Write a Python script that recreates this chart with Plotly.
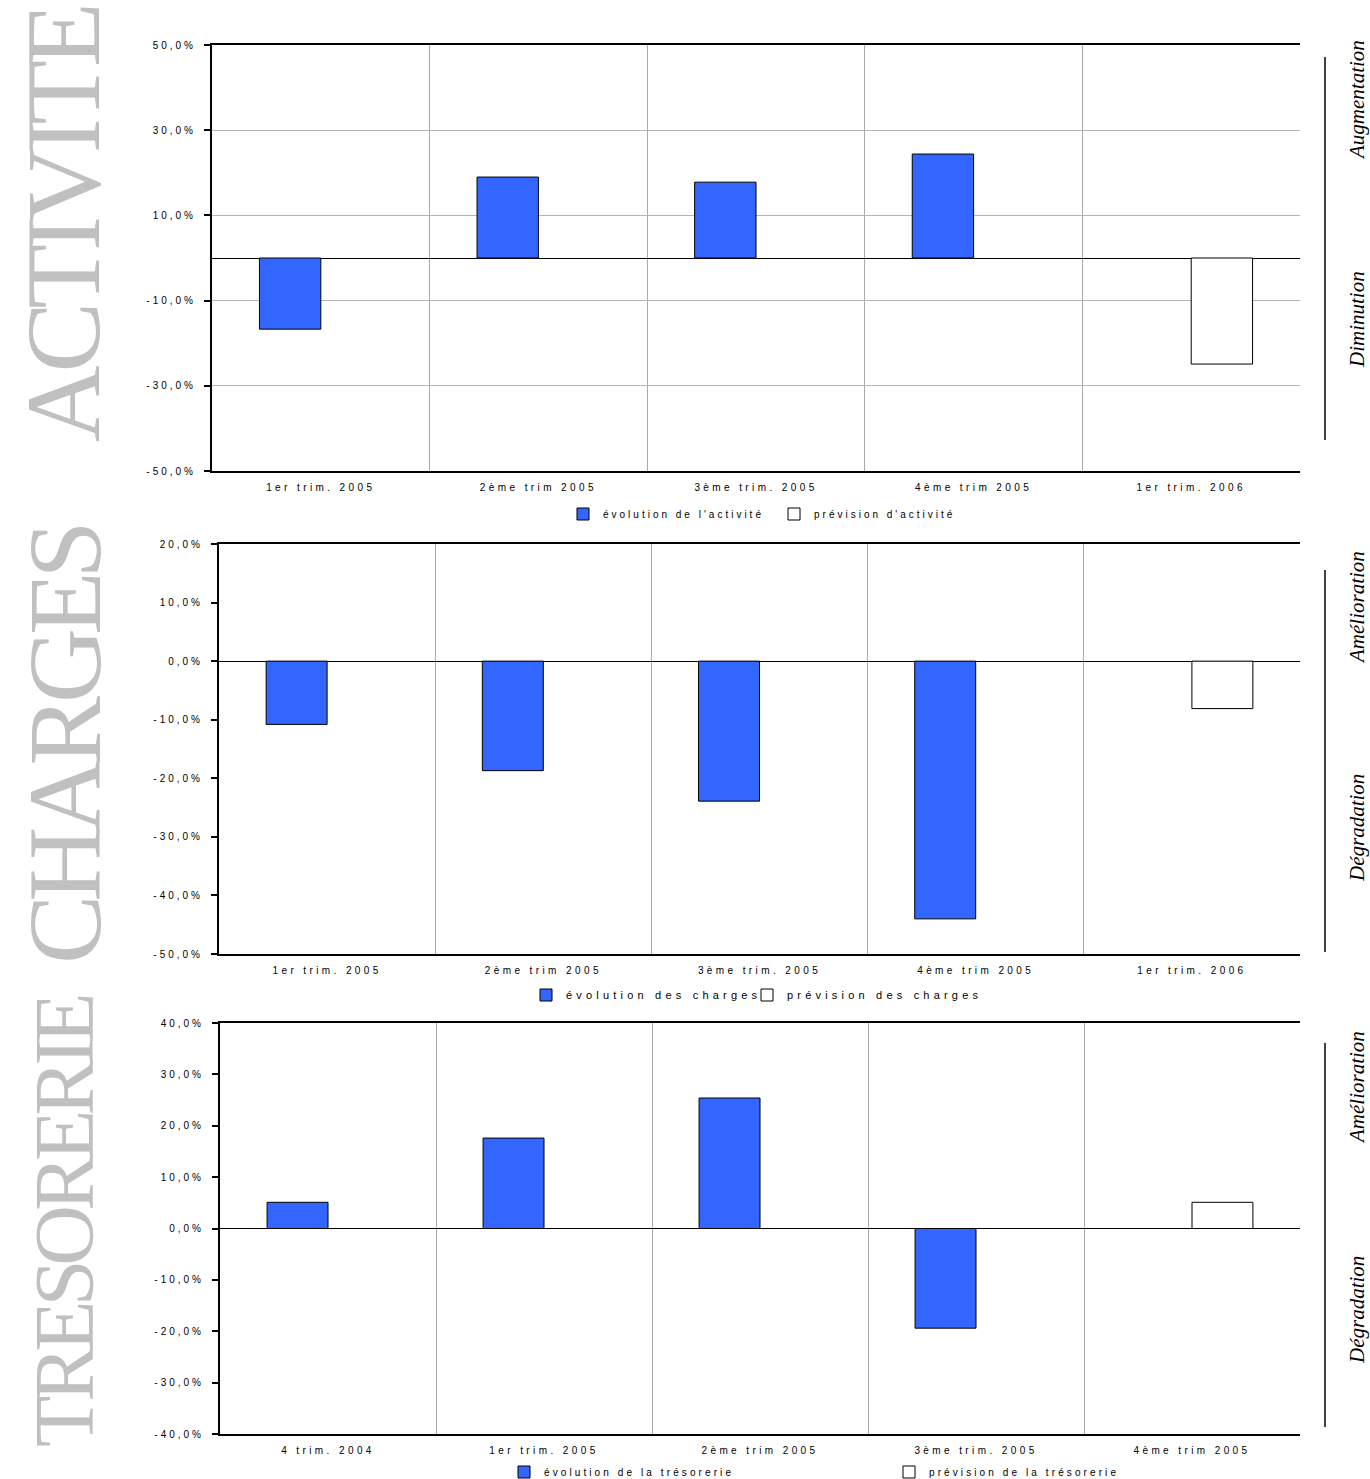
import plotly.graph_objects as go

# ---- data -------------------------------------------------------------
quarters_a = ["1er trim. 2005", "2ème trim 2005", "3ème trim. 2005", "4ème trim 2005", "1er trim. 2006"]
activite_evolution = [-16.7, 19.0, 17.8, 24.4, None]
activite_prevision = [None, None, None, None, -24.9]

quarters_c = ["1er trim. 2005", "2ème trim 2005", "3ème trim. 2005", "4ème trim 2005", "1er trim. 2006"]
charges_evolution = [-10.8, -18.7, -23.9, -44.0, None]
charges_prevision = [None, None, None, None, -8.1]

quarters_t = ["4 trim. 2004", "1er trim. 2005", "2ème trim 2005", "3ème trim. 2005", "4ème trim 2005"]
tresorerie_evolution = [5.1, 17.6, 25.4, -19.4, None]
tresorerie_prevision = [None, None, None, None, 5.1]

ticks_a = [-50, -30, -10, 10, 30, 50]
ticks_c = [-50, -40, -30, -20, -10, 0, 10, 20]
ticks_t = [-40, -30, -20, -10, 0, 10, 20, 30, 40]

BLUE = "#3366FF"
GREY_TEXT = "#c0c0c0"
SANS = "Liberation Sans"
SERIF = "Liberation Serif"

H = 1479.0
W = 1370.0


def spaced(txt, px=3):
    return f'<span style="letter-spacing:{px}px">{txt}</span>'


def pct(v):
    return spaced(f"{v:.1f}".replace(".", ",") + "%", 3)


fig = go.Figure()

# each legend entry gets its own legend box so it can sit exactly where wanted
panels = [
    dict(x=quarters_a, evo=activite_evolution, prev=activite_prevision,
         names=("évolution de l'activité", "prévision d'activité"), ls=3, fs=10,
         legends=("legend", "legend2"), lx=(563, 774), ly=514, xa="x", ya="y"),
    dict(x=quarters_c, evo=charges_evolution, prev=charges_prevision,
         names=("évolution des charges", "prévision des charges"), ls=4.2, fs=11,
         legends=("legend3", "legend4"), lx=(526, 747), ly=995, xa="x2", ya="y2"),
    dict(x=quarters_t, evo=tresorerie_evolution, prev=tresorerie_prevision,
         names=("évolution de la trésorerie", "prévision de la trésorerie"), ls=3.1, fs=10,
         legends=("legend5", "legend6"), lx=(504, 889), ly=1472, xa="x3", ya="y3"),
]

legend_layout = {}
for p in panels:
    fig.add_trace(go.Bar(
        x=p["x"], y=p["evo"], name=spaced(p["names"][0], p["ls"]),
        marker=dict(color=BLUE, line=dict(color="black", width=1)),
        xaxis=p["xa"], yaxis=p["ya"], legend=p["legends"][0],
    ))
    fig.add_trace(go.Bar(
        x=p["x"], y=p["prev"], name=spaced(p["names"][1], p["ls"]),
        marker=dict(color="white", line=dict(color="black", width=1)),
        xaxis=p["xa"], yaxis=p["ya"], legend=p["legends"][1],
    ))
    for lg, lx in zip(p["legends"], p["lx"]):
        legend_layout[lg] = dict(
            orientation="h", x=lx / W, y=1 - p["ly"] / H,
            xanchor="left", yanchor="middle", itemwidth=30,
            font=dict(family=SANS, size=p["fs"], color="black"),
            bgcolor="rgba(0,0,0,0)",
        )


def xdom(l, r):
    return [l / W, r / W]


def ydom(top, bottom):
    return [1 - bottom / H, 1 - top / H]


xcommon = dict(
    type="category", tickson="boundaries", showgrid=True, gridcolor="#a8a8a8",
    gridwidth=1, showline=True, linecolor="black", linewidth=2, mirror=True,
    ticks="", tickfont=dict(family=SANS, size=10, color="black"),
    ticklabelstandoff=6, zeroline=False, fixedrange=True,
)
ycommon = dict(
    showline=True, linecolor="black", linewidth=2, ticks="outside",
    ticklen=6, tickwidth=2, tickcolor="black",
    tickfont=dict(family=SANS, size=10, color="black"),
    zeroline=True, zerolinecolor="black", zerolinewidth=1,
    ticklabelstandoff=6, fixedrange=True,
)

fig.update_layout(
    width=1370, height=1479,
    margin=dict(l=0, r=0, t=0, b=0, autoexpand=False),
    paper_bgcolor="white", plot_bgcolor="white",
    barmode="group", bargap=0.436, bargroupgap=0,
    showlegend=True,
    xaxis=dict(**xcommon, domain=xdom(212, 1300), anchor="y",
               ticktext=[spaced(q, 3.4) for q in quarters_a], tickvals=quarters_a),
    yaxis=dict(**ycommon, domain=ydom(45, 471), anchor="x", range=[-50, 50],
               tickvals=ticks_a, ticktext=[pct(v) for v in ticks_a],
               showgrid=True, gridcolor="#b4b4b4", gridwidth=1),
    xaxis2=dict(**xcommon, domain=xdom(219, 1300), anchor="y2",
                ticktext=[spaced(q, 3.4) for q in quarters_c], tickvals=quarters_c),
    yaxis2=dict(**ycommon, domain=ydom(544, 954), anchor="x2", range=[-50, 20],
                tickvals=ticks_c, ticktext=[pct(v) for v in ticks_c], showgrid=False),
    xaxis3=dict(**xcommon, domain=xdom(220, 1300), anchor="y3",
                ticktext=[spaced(q, 3.4) for q in quarters_t], tickvals=quarters_t),
    yaxis3=dict(**ycommon, domain=ydom(1023, 1434), anchor="x3", range=[-40, 40],
                tickvals=ticks_t, ticktext=[pct(v) for v in ticks_t], showgrid=False),
    **legend_layout,
)

# Large grey section titles running up the left side
titles = [("ACTIVITE", 225, 106, -7), ("CHARGES", 745, 104, -7), ("TRESORERIE", 1222, 84, -6)]
for txt, yc, size, ls in titles:
    fig.add_annotation(
        x=64 / W, y=1 - yc / H, xref="paper", yref="paper",
        text=f'<span style="letter-spacing:{ls}px">{txt}</span>', showarrow=False,
        textangle=-90, xanchor="center", yanchor="middle",
        font=dict(family=SERIF, size=size, color=GREY_TEXT),
    )

# Direction labels and separator rules on the right side
side_labels = [("Augmentation", 100), ("Diminution", 320),
               ("Amélioration", 608), ("Dégradation", 828),
               ("Amélioration", 1088), ("Dégradation", 1310)]
for txt, yc in side_labels:
    fig.add_annotation(
        x=1357 / W, y=1 - yc / H, xref="paper", yref="paper",
        text=f"<i>{txt}</i>", showarrow=False, textangle=-90,
        xanchor="center", yanchor="middle",
        font=dict(family=SERIF, size=21, color="black"),
    )

for top, bottom in [(57, 440), (570, 952), (1043, 1427)]:
    fig.add_shape(type="line", xref="paper", yref="paper",
                  x0=1325 / W, x1=1325 / W, y0=1 - top / H, y1=1 - bottom / H,
                  line=dict(color="black", width=1.5))

fig.write_html("out.html")
